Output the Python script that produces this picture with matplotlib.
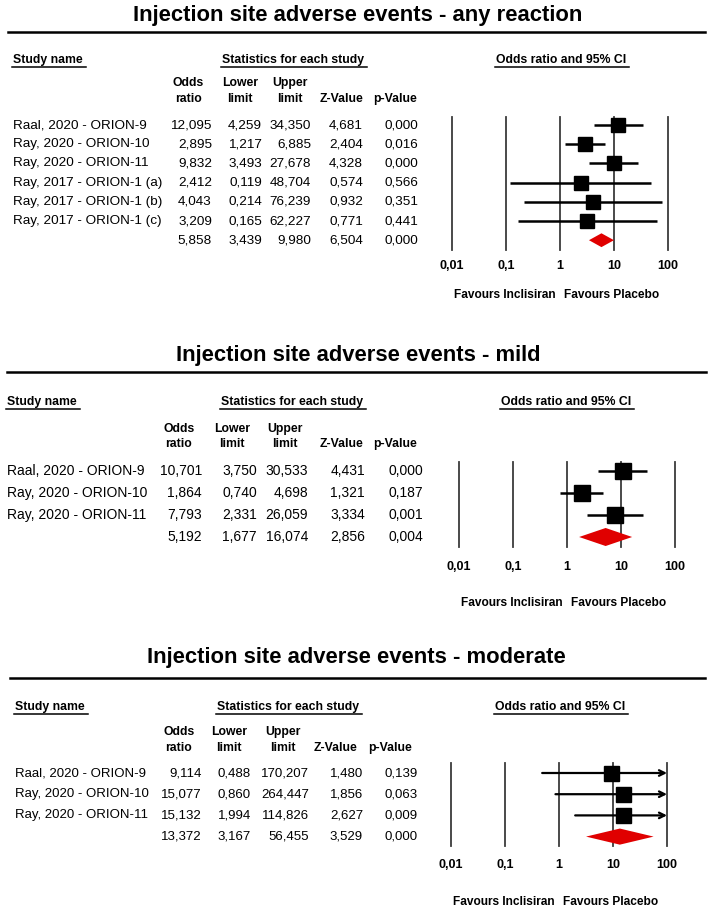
import matplotlib
matplotlib.use("Agg")
import matplotlib.pyplot as plt
import matplotlib.transforms as mtrans
import numpy as np

# ---- data ----
titles = ["Injection site adverse events - any reaction",
          "Injection site adverse events - mild",
          "Injection site adverse events - moderate"]

names_any = ["Raal, 2020 - ORION-9", "Ray, 2020 - ORION-10", "Ray, 2020 - ORION-11",
             "Ray, 2017 - ORION-1 (a)", "Ray, 2017 - ORION-1 (b)", "Ray, 2017 - ORION-1 (c)"]
or_any = [12.095, 2.895, 9.832, 2.412, 4.043, 3.209]
lo_any = [4.259, 1.217, 3.493, 0.119, 0.214, 0.165]
hi_any = [34.350, 6.885, 27.678, 48.704, 76.239, 62.227]
z_any = [4.681, 2.404, 4.328, 0.574, 0.932, 0.771]
p_any = [0.000, 0.016, 0.000, 0.566, 0.351, 0.441]
pooled_any = [5.858, 3.439, 9.980, 6.504, 0.000]

names_mild = ["Raal, 2020 - ORION-9", "Ray, 2020 - ORION-10", "Ray, 2020 - ORION-11"]
or_mild = [10.701, 1.864, 7.793]
lo_mild = [3.750, 0.740, 2.331]
hi_mild = [30.533, 4.698, 26.059]
z_mild = [4.431, 1.321, 3.334]
p_mild = [0.000, 0.187, 0.001]
pooled_mild = [5.192, 1.677, 16.074, 2.856, 0.004]

names_mod = ["Raal, 2020 - ORION-9", "Ray, 2020 - ORION-10", "Ray, 2020 - ORION-11"]
or_mod = [9.114, 15.077, 15.132]
lo_mod = [0.488, 0.860, 1.994]
hi_mod = [170.207, 264.447, 114.826]
z_mod = [1.480, 1.856, 2.627]
p_mod = [0.139, 0.063, 0.009]
pooled_mod = [13.372, 3.167, 56.455, 3.529, 0.000]

col_heads = [("Odds", "ratio"), ("Lower", "limit"), ("Upper", "limit"), ("", "Z-Value"), ("", "p-Value")]
tick_vals = [0.01, 0.1, 1, 10, 100]
tick_labels = ["0,01", "0,1", "1", "10", "100"]

# ---- layout (pixels, y downwards) ----
W, H = 711, 911
layouts = [
    dict(title_x=358, title_y=15, rule_y=32, rule_x=(8, 705), head_y=60, uline_y=67,
         col_y=(83, 99), row0=125, dy=19.2, name_x=13, val_r=[212, 262, 311, 363, 418],
         head_cx=[188, 240, 290, 341, 395], stats_cx=293, ci_cx=561,
         fx0=452, top=117, bot=250, tick_y=266, fav_y=295, sq=9.4, dh=0.36, fs=9.7),
    dict(title_x=358, title_y=356, rule_y=372, rule_x=(7, 706), head_y=402, uline_y=409,
         col_y=(429, 444), row0=471, dy=22.0, name_x=7, val_r=[202, 257, 308, 365, 423],
         head_cx=[179, 232, 285, 341, 395], stats_cx=292, ci_cx=566,
         fx0=459, top=462, bot=547, tick_y=567, fav_y=603, sq=11.5, dh=0.41, fs=10.0),
    dict(title_x=356, title_y=658, rule_y=678, rule_x=(10, 705), head_y=707, uline_y=714,
         col_y=(732, 748), row0=773, dy=21.2, name_x=15, val_r=[202, 251, 309, 363, 418],
         head_cx=[179, 229, 283, 336, 390], stats_cx=288, ci_cx=560,
         fx0=451, top=763, bot=846, tick_y=865, fav_y=902, sq=10.8, dh=0.38, fs=9.5),
]

sans = ["Liberation Sans", "DejaVu Sans"]

fig = plt.figure(figsize=(W / 100, H / 100), dpi=100)
bg = fig.add_axes([0, 0, 1, 1])
bg.set_xlim(0, W)
bg.set_ylim(H, 0)
bg.axis("off")
renderer = fig.canvas.get_renderer()


def fmt(v):
    return f"{v:.3f}".replace(".", ",")


def underlined(x, y, s, uy, ha):
    t = bg.text(x, y, s, ha=ha, va="center", fontsize=8.8, fontweight="bold", family=sans)
    bb = t.get_window_extent(renderer)
    bg.plot([bb.x0 - 1, bb.x1 + 3], [uy, uy], color="black", lw=1.1)


def panel(k, names, ors, los, his, zs, ps, pooled):
    L = layouts[k]
    n = len(names)
    bg.text(L["title_x"], L["title_y"], titles[k], ha="center", va="center",
            fontsize=15.8, fontweight="bold", family=sans)
    bg.plot(L["rule_x"], [L["rule_y"]] * 2, color="black", lw=1.8)
    underlined(L["name_x"], L["head_y"], "Study name", L["uline_y"], "left")
    underlined(L["stats_cx"], L["head_y"], "Statistics for each study", L["uline_y"], "center")
    underlined(L["ci_cx"], L["head_y"], "Odds ratio and 95% CI", L["uline_y"], "center")
    for (a, b), cx in zip(col_heads, L["head_cx"]):
        if a:
            bg.text(cx, L["col_y"][0], a, ha="center", va="center", fontsize=8.8,
                    fontweight="bold", family=sans)
        bg.text(cx, L["col_y"][1], b, ha="center", va="center", fontsize=8.8,
                fontweight="bold", family=sans)

    rows = [list(r) for r in zip(ors, los, his, zs, ps)] + [pooled]
    labels = names + [""]
    for i, (nm, vals) in enumerate(zip(labels, rows)):
        y = L["row0"] + i * L["dy"]
        bg.text(L["name_x"], y, nm, ha="left", va="center", fontsize=L["fs"], family=sans)
        for v, xr in zip(vals, L["val_r"]):
            bg.text(xr, y, fmt(v), ha="right", va="center", fontsize=L["fs"], family=sans)

    # forest plot
    top, bot = L["top"], L["bot"]
    ax = fig.add_axes([L["fx0"] / W, 1 - bot / H, 216 / W, (bot - top) / H])
    ax.set_xscale("log")
    ax.set_xlim(0.01, 100)
    ax.set_ylim((bot - L["row0"]) / L["dy"], (top - L["row0"]) / L["dy"])
    ax.axis("off")
    for v in tick_vals:
        ax.axvline(v, color="#3c3c3c", lw=1.3, clip_on=False)
    for i, (o, l, h) in enumerate(zip(ors, los, his)):
        if h > 100:
            ax.annotate("", xy=(100, i), xytext=(l, i), annotation_clip=False,
                        arrowprops=dict(arrowstyle="->", lw=1.6, color="black",
                                        shrinkA=0, shrinkB=0, mutation_scale=10))
        else:
            ax.plot([l, h], [i, i], color="black", lw=1.8, solid_capstyle="butt")
    ax.plot(ors, np.arange(n), "s", color="black", ms=L["sq"], zorder=3)
    po, pl, ph = pooled[:3]
    d = L["dh"]
    ax.fill([pl, po, ph, po], [n, n - d, n, n + d], color="#e00000", lw=0, zorder=3)

    tr = mtrans.blended_transform_factory(ax.transData, bg.transData)
    for v, s in zip(tick_vals, tick_labels):
        bg.text(v, L["tick_y"], s, transform=tr, ha="center", va="center",
                fontsize=9, fontweight="bold", family=sans)
    bg.text(1, L["fav_y"], "Favours Inclisiran", ha="right", va="center", fontsize=8.6,
            fontweight="bold", family=sans,
            transform=mtrans.offset_copy(tr, fig=fig, x=-4, units="dots"))
    bg.text(1, L["fav_y"], "Favours Placebo", ha="left", va="center", fontsize=8.6,
            fontweight="bold", family=sans,
            transform=mtrans.offset_copy(tr, fig=fig, x=4, units="dots"))


panel(0, names_any, or_any, lo_any, hi_any, z_any, p_any, pooled_any)
panel(1, names_mild, or_mild, lo_mild, hi_mild, z_mild, p_mild, pooled_mild)
panel(2, names_mod, or_mod, lo_mod, hi_mod, z_mod, p_mod, pooled_mod)

fig.savefig("out.png", dpi=100)
